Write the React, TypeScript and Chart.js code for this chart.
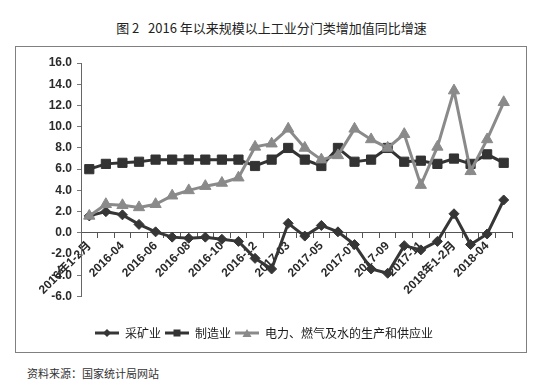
import React, { useEffect, useRef } from 'react';
import { Chart, registerables } from 'chart.js';

Chart.register(...registerables);

const categories = [
  '2016年1-2月', '2016-03', '2016-04', '2016-05', '2016-06', '2016-07', '2016-08', '2016-09', '2016-10', '2016-11', '2016-12',
  '2017年1-2月', '2017-03', '2017-04', '2017-05', '2017-06', '2017-07', '2017-08', '2017-09', '2017-10', '2017-11', '2017-12',
  '2018年1-2月', '2018-03', '2018-04', '2018-05',
];

const miningValues = [1.6, 2.0, 1.7, 0.8, 0.1, -0.4, -0.5, -0.4, -0.6, -0.8, -2.4, -3.4, 0.9, -0.3, 0.7, 0.1, -1.1, -3.4, -3.8, -1.2, -1.6, -0.8, 1.8, -1.1, -0.1, 3.1];
const manufacturingValues = [6.0, 6.5, 6.6, 6.7, 6.9, 6.9, 6.9, 6.9, 6.9, 6.9, 6.3, 6.9, 8.0, 6.9, 6.3, 8.0, 6.7, 6.9, 8.0, 6.7, 6.8, 6.5, 7.0, 6.5, 7.4, 6.6];
const utilityValues = [1.6, 2.7, 2.6, 2.4, 2.7, 3.5, 4.0, 4.4, 4.7, 5.2, 8.1, 8.4, 9.8, 8.0, 6.9, 7.3, 9.8, 8.8, 8.0, 9.3, 4.5, 8.1, 13.4, 5.8, 8.8, 12.3];

const seriesNames = ['采矿业', '制造业', '电力、燃气及水的生产和供应业'];
const yMin = -6;
const yMax = 16;
const yStep = 2;

const titleText = '图 2\u00a0\u00a0\u00a02016 年以来规模以上工业分门类增加值同比增速';
const sourceText = '资料来源：国家统计局网站';

const COLORS = ['#363636', '#333333', '#8a8a8a'];
const TICK_FONT = '"Liberation Sans", "Noto Sans CJK SC", sans-serif';
const CJK_FONT = '"Noto Sans CJK SC", "Liberation Sans", sans-serif';

function makeIcon(color: string, style: string, lineWidth: number) {
  const c = document.createElement('canvas');
  c.width = 24;
  c.height = 12;
  const ctx = c.getContext('2d')!;
  ctx.strokeStyle = color;
  ctx.fillStyle = color;
  ctx.lineWidth = lineWidth;
  ctx.beginPath();
  ctx.moveTo(0, 6);
  ctx.lineTo(24, 6);
  ctx.stroke();
  ctx.beginPath();
  if (style === 'diamond') {
    ctx.moveTo(12, 2);
    ctx.lineTo(16, 6);
    ctx.lineTo(12, 10);
    ctx.lineTo(8, 6);
  } else if (style === 'square') {
    ctx.rect(8.5, 2.5, 7, 7);
  } else {
    ctx.moveTo(12, 2);
    ctx.lineTo(16.5, 10);
    ctx.lineTo(7.5, 10);
  }
  ctx.closePath();
  ctx.fill();
  return c;
}

export default function App() {
  const canvasRef = useRef<HTMLCanvasElement | null>(null);

  useEffect(() => {
    const canvas = canvasRef.current;
    if (!canvas) return;
    const icons = [
      makeIcon(COLORS[0], 'diamond', 3),
      makeIcon(COLORS[1], 'square', 3),
      makeIcon(COLORS[2], 'triangle', 3),
    ];
    const chart = new Chart(canvas, {
      type: 'line',
      data: {
        labels: categories,
        datasets: [
          {
            label: seriesNames[0],
            data: miningValues,
            borderColor: COLORS[0],
            backgroundColor: COLORS[0],
            pointBackgroundColor: COLORS[0],
            pointBorderColor: COLORS[0],
            borderWidth: 3,
            pointStyle: 'rectRot',
            pointRadius: 5,
            pointBorderWidth: 1,
            tension: 0,
            order: 3,
          },
          {
            label: seriesNames[1],
            data: manufacturingValues,
            borderColor: COLORS[1],
            backgroundColor: COLORS[1],
            pointBackgroundColor: COLORS[1],
            pointBorderColor: COLORS[1],
            borderWidth: 3,
            pointStyle: 'rect',
            pointRadius: 6.5,
            pointBorderWidth: 1,
            tension: 0,
            order: 2,
          },
          {
            label: seriesNames[2],
            data: utilityValues,
            borderColor: COLORS[2],
            backgroundColor: COLORS[2],
            pointBackgroundColor: COLORS[2],
            pointBorderColor: COLORS[2],
            borderWidth: 3,
            pointStyle: 'triangle',
            pointRadius: 6.5,
            pointBorderWidth: 1,
            tension: 0,
            order: 1,
          },
        ],
      },
      options: {
        responsive: false,
        animation: false,
        layout: { padding: { left: 0, right: 14, top: 16, bottom: 3 } },
        scales: {
          x: {
            type: 'category',
            position: { y: 0 } as any,
            offset: true,
            grid: {
              display: true,
              drawOnChartArea: false,
              drawTicks: true,
              tickLength: 5,
              offset: true,
              color: '#555',
            },
            border: { display: true, color: '#555', width: 1 },
            ticks: {
              autoSkip: false,
              minRotation: 45,
              maxRotation: 45,
              padding: 1,
              color: '#2a2a2a',
              font: { family: TICK_FONT, size: 12, weight: 'bold' },
              callback: (_v: any, i: number) => (i % 2 === 0 ? categories[i] : ''),
            },
          },
          y: {
            min: yMin,
            max: yMax,
            afterFit: (scale: any) => {
              scale.width = 65;
            },
            grid: {
              display: true,
              drawOnChartArea: false,
              drawTicks: true,
              tickLength: 4,
              color: '#777',
            },
            border: { display: true, color: '#666', width: 1 },
            ticks: {
              stepSize: yStep,
              padding: 5,
              color: '#2a2a2a',
              font: { family: TICK_FONT, size: 12, weight: 'bold' },
              callback: (v: any) => Number(v).toFixed(1),
            },
          },
        },
        plugins: {
          title: { display: false },
          tooltip: { enabled: false },
          legend: {
            display: true,
            position: 'bottom',
            title: { display: true, text: '', font: { size: 12 }, padding: { top: 0, bottom: 12 } },
            labels: {
              usePointStyle: true,
              pointStyleWidth: 24,
              padding: 4,
              color: '#1a1a1a',
              font: { family: CJK_FONT, size: 12 },
              generateLabels: (ch: any) =>
                ch.data.datasets.map((ds: any, i: number) => ({
                  text: ds.label,
                  pointStyle: icons[i],
                  fillStyle: COLORS[i],
                  strokeStyle: COLORS[i],
                  lineWidth: 0,
                  hidden: false,
                  datasetIndex: i,
                  fontColor: '#1a1a1a',
                })),
            },
          },
        },
      },
    });
    return () => chart.destroy();
  }, []);

  return (
    <div style={{ position: 'fixed', left: 0, top: 0, width: 545, height: 385, background: '#fff', overflow: 'hidden' }}>
      <div
        style={{
          position: 'absolute',
          left: 0,
          top: 19,
          width: 543,
          textAlign: 'center',
          fontFamily: CJK_FONT,
          fontSize: 13,
          lineHeight: '18px',
          color: '#222',
          whiteSpace: 'pre',
        }}
      >
        {titleText}
      </div>
      <div
        style={{
          position: 'absolute',
          left: 15,
          top: 46,
          width: 510,
          height: 305,
          border: '1px solid #808080',
        }}
      />
      <canvas
        ref={canvasRef}
        width={510}
        height={305}
        style={{ position: 'absolute', left: 16, top: 47, width: 510, height: 305 }}
      />
      <div
        style={{
          position: 'absolute',
          left: 27,
          top: 365,
          fontFamily: CJK_FONT,
          fontSize: 11,
          lineHeight: '16px',
          color: '#333',
          whiteSpace: 'pre',
        }}
      >
        {sourceText}
      </div>
    </div>
  );
}
